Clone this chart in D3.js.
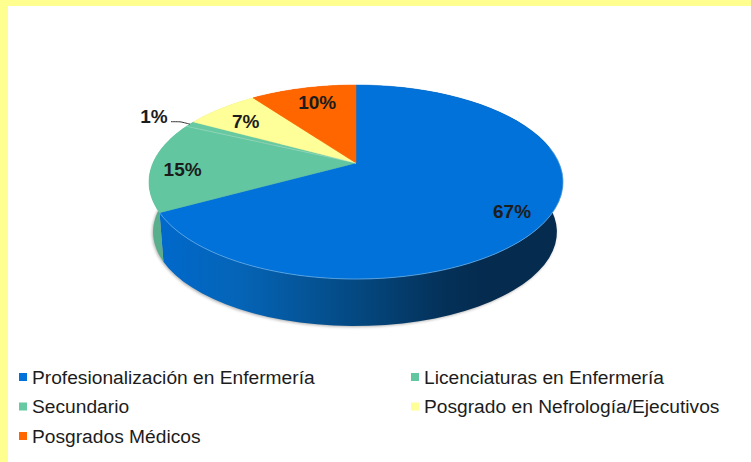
<!DOCTYPE html>
<html>
<head>
<meta charset="utf-8">
<script src="https://cdn.jsdelivr.net/npm/d3@7"></script>
<style>
  html, body { margin: 0; padding: 0; background: #fff; }
  svg { display: block; }
  text { font-family: "Liberation Sans", Arial, sans-serif; fill: #1c1c1c; }
</style>
</head>
<body>
<svg id="chart" width="751" height="462"></svg>
<script>
const categories = [
  'Profesionalización en Enfermería',
  'Licenciaturas en Enfermería',
  'Secundario',
  'Posgrado en Nefrología/Ejecutivos',
  'Posgrados Médicos'
];
const values = [67, 15, 1, 7, 10];
const topColors = ['#0072DA', '#62C6A0', '#66C9A2', '#FFFF99', '#FF6600'];
const labelRadius = [0.82, 0.85, 1.24, 0.8, 0.7];
const labelShiftY = [6, 4, 1, 3, -6];

const width = 751, height = 462;
const svg = d3.select('#chart');

// Page frame
svg.append('rect').attr('width', width).attr('height', height).attr('fill', '#FFFF8F');
svg.append('rect').attr('x', 8).attr('y', 6).attr('width', width - 8).attr('height', height - 6).attr('fill', '#fff');

// Perspective disc: the far half is squeezed, so the apex sits above the ellipse centre
const persp = 0.196;
function project(angle, r, disc) {
  const u = Math.sin(angle) * r, v = -Math.cos(angle) * r;
  const s = 1 / (1 - persp * v);
  return [disc.cx + disc.rx * u * s, disc.y0 + disc.ry * v * s];
}
const topDisc = { cx: 356, rx: 203, ry: 93.3, y0: 163 };
const lowDisc = { cx: 355, rx: 198, ry: 90.5, y0: 213.5 };

const pie = d3.pie().sort(null).value(d => d);
const arcs = pie(values);
const color = d3.scaleOrdinal().domain(categories).range(topColors);
const line = d3.line();

function rim(a0, a1, disc) {
  return d3.range(0, 61).map(i => project(a0 + (a1 - a0) * i / 60, 1, disc));
}

const defs = svg.append('defs');
const blueWall = defs.append('linearGradient').attr('id', 'blueWall')
  .attr('gradientUnits', 'userSpaceOnUse')
  .attr('x1', 160).attr('x2', 565).attr('y1', 0).attr('y2', 0);
[[0, '#0069CC'], [0.2, '#0564B6'], [0.5, '#04477E'], [0.7, '#043159'], [0.8, '#052B4F'], [1, '#052B4F']]
  .forEach(d => blueWall.append('stop').attr('offset', d[0]).attr('stop-color', d[1]));
const blur = defs.append('filter').attr('id', 'soft')
  .attr('x', '-10%').attr('y', '-10%').attr('width', '120%').attr('height', '120%');
blur.append('feGaussianBlur').attr('stdDeviation', 1.6);

// Soft shadow under the disc
svg.append('path')
  .attr('d', line(rim(0, Math.PI * 2, lowDisc)) + 'Z')
  .attr('transform', 'translate(-1,1)')
  .attr('fill', '#777')
  .attr('opacity', 0.6)
  .attr('filter', 'url(#soft)');

// Outer walls
const wallFill = ['url(#blueWall)', '#59AE8C', '#59AE8C', '#CCCC7A', '#CC5200'];
svg.append('g').selectAll('path')
  .data(arcs)
  .join('path')
  .attr('fill', (d, i) => wallFill[i])
  .attr('d', d => line(rim(d.startAngle, d.endAngle, topDisc)
    .concat(rim(d.startAngle, d.endAngle, lowDisc).reverse())) + 'Z');

// Top faces
svg.append('g').selectAll('path')
  .data(arcs)
  .join('path')
  .attr('fill', (d, i) => color(categories[i]))
  .attr('stroke', (d, i) => color(categories[i]))
  .attr('stroke-width', 0.5)
  .attr('d', d => line([project(0, 0, topDisc)].concat(rim(d.startAngle, d.endAngle, topDisc))) + 'Z');

// Thin light edge along the front rim
svg.append('path')
  .attr('d', line(rim(arcs[0].startAngle + 1.4, arcs[0].endAngle, topDisc)))
  .attr('fill', 'none')
  .attr('stroke', '#9FD0F5')
  .attr('stroke-opacity', 0.6)
  .attr('stroke-width', 0.8);

// Faint seam between the two green slices
svg.append('path')
  .attr('d', line([project(0, 0, topDisc), project(arcs[2].startAngle, 1, topDisc)]))
  .attr('fill', 'none')
  .attr('stroke', '#fff')
  .attr('stroke-opacity', 0.35)
  .attr('stroke-width', 0.7);

// Data labels
const labelPos = arcs.map((d, i) => {
  const p = project((d.startAngle + d.endAngle) / 2, labelRadius[i], topDisc);
  return [p[0], p[1] + labelShiftY[i]];
});
svg.append('g').selectAll('text')
  .data(arcs)
  .join('text')
  .attr('x', (d, i) => labelPos[i][0])
  .attr('y', (d, i) => labelPos[i][1])
  .attr('dy', '0.35em')
  .attr('text-anchor', 'middle')
  .attr('font-size', 19)
  .attr('font-weight', 700)
  .text(d => d.value + '%');

// Leader line for the 1% slice
const thin = arcs[2];
const thinMid = (thin.startAngle + thin.endAngle) / 2;
const tip = project(thinMid, 1, topDisc);
const start = [labelPos[2][0] + 17, labelPos[2][1] + 5];
svg.append('path')
  .attr('d', d3.line().curve(d3.curveBasis)([start, [start[0] + 9, start[1]], [tip[0] - 8, tip[1] - 2], tip]))
  .attr('fill', 'none')
  .attr('stroke', '#333')
  .attr('stroke-width', 1);

// Legend
const legendX = d3.scaleOrdinal().domain([0, 1]).range([19, 411]);
const legendY = d3.scalePoint().domain([0, 1, 2]).range([377, 436]);
const legend = svg.append('g').selectAll('g')
  .data(categories)
  .join('g')
  .attr('transform', (d, i) => `translate(${legendX(i % 2)},${legendY(Math.floor(i / 2))})`);
legend.append('rect')
  .attr('y', -4).attr('width', 8).attr('height', 8)
  .attr('fill', d => color(d));
legend.append('text')
  .attr('x', 13)
  .attr('dy', '0.35em')
  .attr('font-size', 19.2)
  .text(d => d);
</script>
</body>
</html>
